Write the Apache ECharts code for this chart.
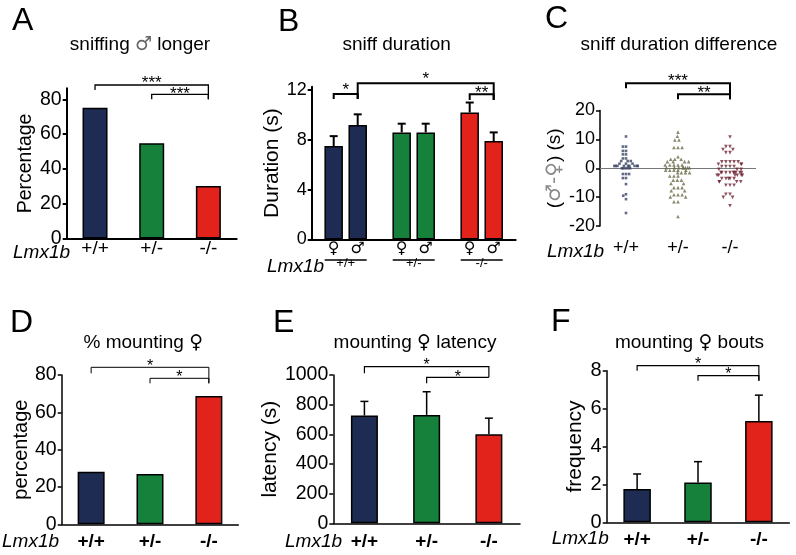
<!DOCTYPE html>
<html>
<head>
<meta charset="utf-8">
<script src="https://cdn.jsdelivr.net/npm/echarts@6.0.0/dist/echarts.min.js"></script>
<style>
html, body { margin: 0; padding: 0; background: #fff; }
#chart { width: 796px; height: 555px; }
</style>
</head>
<body>
<div id="chart"></div>
<script>
// ---- data ----
const genotypes = ['+/+', '+/-', '-/-'];

// A: % sniffing male longer
const sniffMalePct = [75.2, 54.7, 30.2];

// B: sniff duration (s), mean and sem, female / male stimulus
const sniffFemale = [7.5, 8.6, 10.2];
const sniffFemaleSem = [0.8, 0.7, 0.8];
const sniffMale = [9.2, 8.6, 7.9];
const sniffMaleSem = [0.85, 0.7, 0.7];

// C: individual differences (male - female), s
const diffWT = [11, 7.5, 7.5, 6, 6, 4.8, 4.8, 3.4, 3.4, 2.5, 2.5, 2.5, 1.6, 1.6, 1.6,
  0.8, 0.8, 0.8, 0.8, 0.8, 0.8, 0.8, 0.8, 0.8, 0, 0, 0, 0, 0, -2, -2, -2, -3.4, -3.4,
  -5.5, -9, -9.5, -10.7, -15.5];
const diffHet = [12.5, 11.1, 9.8, 9.8, 7.2, 7.2, 7.2, 4, 3.1, 3.1, 3.1, 2.3, 2.3, 2.3, 2.3,
  1.1, 1.1, 1.1, 1.1, 1.1, 0.2, 0.2, 0.2, 0.2, 0.2, 0.2, 0.2, 0.2, -0.7, -0.7, -0.7, -0.7, -0.7,
  -1.5, -1.5, -1.5, -1.5, -2.7, -2.7, -2.7, -4.1, -4.1, -4.1, -5.3, -5.3, -6.7, -6.7, -6.7,
  -7.8, -7.8, -9.2, -9.2, -9.2, -9.9, -9.9, -11.6, -11.6, -16.7];
const diffKO = [10.8, 7.5, 7.5, 6.5, 6.5, 5.4, 5.4, 2.2, 2.2, 2.2, 2.2, 2.2, 1.4, 1.4, 1.4,
  0.6, 0.6, 0.6, 0.6, -0.4, -0.4, -0.4, -1.5, -1.5, -1.5, -1.5, -1.5, -1.5, -1.5, -1.5, -1.5,
  -2.4, -2.4, -2.4, -2.4, -2.4, -2.4, -3.6, -3.6, -3.6, -3.6, -3.6, -4.7, -4.7, -4.7, -4.7,
  -5.9, -5.9, -5.9, -9, -9, -10.1, -10.1, -13];

// D, E, F: mounting female
const mountPct = [28.2, 26.9, 68.8];
const mountLatency = [727, 731, 600];
const mountLatencySem = [95, 156, 109];
const mountBouts = [1.76, 2.1, 5.34];
const mountBoutsSem = [0.79, 1.1, 1.37];

// tick labels
const ticksA = [0, 20, 40, 60, 80];
const ticksB = [0, 4, 8, 12];
const ticksC = [-20, -10, 0, 10, 20];
const ticksD = [0, 20, 40, 60, 80];
const ticksE = [0, 200, 400, 600, 800, 1000];
const ticksF = [0, 2, 4, 6, 8];

// significance comparisons [from, to, stars]
const sigA = [[0, 2, '***'], [1, 2, '***']];
const sigB = [[0, 2, '*'], [0, 0, '*'], [2, 2, '**']];
const sigC = [[0, 2, '***'], [1, 2, '**']];
const sigD = [[0, 2, '*'], [1, 2, '*']];
const sigE = [[0, 2, '*'], [1, 2, '*']];
const sigF = [[0, 2, '*'], [1, 2, '*']];

// ---- styling / layout ----
const FONT = "'Liberation Sans', Arial, Helvetica, sans-serif";
const SYM = "'DejaVu Sans', sans-serif";
const groupColors = ['#1e2c54', '#15813b', '#e2231b'];

// bracket geometry: px offsets from the top of the plot area
const layA = [{line: -3.3, l: 1.7, r: 11, star: -9.3}, {line: 6, l: 11, r: 11, star: 1.7}];
const layB = [{line: -3.4, l: 12.3, r: 13.3, star: -11.7, ls: 1, rs: 1},
              {line: 7.3, l: 12.3, r: 12.3, star: 0, ls: -1, rs: 1},
              {line: 7.6, l: 13.3, r: 13.3, star: 2.6, ls: -1, rs: 1}];
const layC = [{line: -27.2, l: -22.2, r: -11.2, star: -32.8}, {line: -16.2, l: -11.2, r: -11.2, star: -21.2}];
const layD = [{line: -7.7, l: -1.7, r: 8.3, star: -12.3}, {line: 3.3, l: 8.3, r: 8.3, star: -1.7}];
const layE = [{line: -8.3, l: -1.7, r: 2.3, star: -13.3}, {line: 2.3, l: 8.3, r: 2.3, star: -1.7}];
const layF = [{line: -5, l: 0, r: 10, star: -9.7}, {line: 5, l: 10, r: 10, star: 0}];

function txt(x, y, text, size, extra) {
  return {
    type: 'text', x: x, y: y, silent: true,
    style: Object.assign({
      text: text, fontSize: size, fontFamily: FONT, fill: '#000',
      textAlign: 'left', textVerticalAlign: 'middle', align: 'left', verticalAlign: 'middle'
    }, extra || {})
  };
}
function ctxt(x, y, text, size, extra) {
  return txt(x, y, text, size, Object.assign({textAlign: 'center', align: 'center'}, extra || {}));
}
// rich style for the sex symbols inside titles
const symRich = {
  s: {fontFamily: SYM, fontSize: 19, fill: '#000'},
  g: {fontFamily: SYM, fontSize: 19, fill: '#666'}
};

function catAxis(gi, fontSize, bold, margin, lineW, showLine, extra) {
  return Object.assign({
    type: 'category', gridIndex: gi, data: genotypes,
    axisLine: {show: showLine, onZero: false, lineStyle: {color: '#000', width: lineW}},
    axisTick: {show: false},
    axisLabel: {color: '#000', fontSize: fontSize, fontFamily: FONT, fontWeight: bold ? 'bold' : 'normal', margin: margin},
    splitLine: {show: false}
  }, extra || {});
}

function valAxis(gi, min, max, ticks, fontSize, lineW, name, nameGap, nameSize, nameRich) {
  return {
    type: 'value', gridIndex: gi, min: min, max: max,
    axisLine: {show: true, onZero: false, lineStyle: {color: '#000', width: lineW}},
    axisTick: {show: true, length: 4, customValues: ticks, lineStyle: {color: '#000', width: lineW}},
    axisLabel: {color: '#000', fontSize: fontSize, fontFamily: FONT, margin: 5, customValues: ticks,
                formatter: v => String(v)},
    splitLine: {show: false},
    name: name, nameLocation: 'middle', nameGap: nameGap,
    nameTextStyle: {color: '#000', fontSize: nameSize, fontFamily: FONT, rich: nameRich}
  };
}

function barSeries(gi, values, width, extra) {
  return Object.assign({
    type: 'bar', xAxisIndex: gi, yAxisIndex: gi, data: values, barWidth: width, silent: true,
    itemStyle: {color: p => groupColors[p.dataIndex], borderColor: '#000', borderWidth: 1.5},
    z: 2
  }, extra || {});
}

function errSeries(gi, means, sems, dx, lw) {
  return {
    type: 'custom', xAxisIndex: gi, yAxisIndex: gi, silent: true, z: 5, clip: false,
    data: means.map((m, i) => [i, m, m + sems[i]]),
    renderItem: function (params, api) {
      const p0 = api.coord([api.value(0), api.value(1)]);
      const p1 = api.coord([api.value(0), api.value(2)]);
      const x = p0[0] + dx;
      return {type: 'group', children: [
        {type: 'line', shape: {x1: x, y1: p0[1], x2: x, y2: p1[1]}, style: {stroke: '#000', lineWidth: lw, fill: 'none'}},
        {type: 'line', shape: {x1: x - 4, y1: p1[1], x2: x + 4, y2: p1[1]}, style: {stroke: '#000', lineWidth: lw, fill: 'none'}}
      ]};
    }
  };
}

function bracketSeries(gi, sig, lay, lw, fs, dx) {
  return {
    type: 'custom', xAxisIndex: gi, yAxisIndex: gi, silent: true, z: 10, clip: false,
    data: sig.map(s => [s[0], 0]),
    renderItem: function (params, api) {
      const k = params.dataIndex, s = sig[k], L = lay[k];
      const top = params.coordSys.y;
      const xa = api.coord([s[0], 0])[0] + (L.ls || 0) * (dx || 0);
      const xb = api.coord([s[1], 0])[0] + (L.rs || 0) * (dx || 0);
      const yl = top + L.line;
      return {type: 'group', children: [
        {type: 'polyline', shape: {points: [[xa, top + L.l], [xa, yl], [xb, yl], [xb, top + L.r]]},
         style: {stroke: '#000', lineWidth: lw, fill: 'none'}},
        {type: 'text', x: (xa + xb) / 2, y: top + L.star + 4,
         style: {text: s[2], fontSize: fs, fontFamily: FONT, fill: '#000',
                 textAlign: 'center', textVerticalAlign: 'middle', align: 'center', verticalAlign: 'middle'}}
      ]};
    }
  };
}

// underline under the sex symbols in B
function underlineSeries(gi, halfW, dy, lw) {
  return {
    type: 'custom', xAxisIndex: gi, yAxisIndex: gi, silent: true, z: 10, clip: false,
    data: genotypes.map((g, i) => [i, 0]),
    renderItem: function (params, api) {
      const x = api.coord([api.value(0), 0])[0];
      const y = params.coordSys.y + params.coordSys.height + dy;
      return {type: 'line', shape: {x1: x - halfW, y1: y, x2: x + halfW, y2: y},
              style: {stroke: '#000', lineWidth: lw, fill: 'none'}};
    }
  };
}

const chart = echarts.init(document.getElementById('chart'), null, {renderer: 'canvas'});

const option = {
  animation: false,
  backgroundColor: '#fff',
  textStyle: {fontFamily: FONT},
  grid: [
    {left: 66.7, top: 88.3, width: 170, height: 150.3, containLabel: false, outerBoundsMode: 'none'},
    {left: 311.7, top: 86.7, width: 204, height: 152.8, containLabel: false, outerBoundsMode: 'none'},
    {left: 600, top: 110.5, width: 156, height: 115.5, containLabel: false, outerBoundsMode: 'none'},
    {left: 61.7, top: 375, width: 176.6, height: 149.3, containLabel: false, outerBoundsMode: 'none'},
    {left: 333.3, top: 375, width: 186.7, height: 148.3, containLabel: false, outerBoundsMode: 'none'},
    {left: 606.7, top: 370.7, width: 182.6, height: 151.6, containLabel: false, outerBoundsMode: 'none'}
  ],
  xAxis: [
    catAxis(0, 19, false, 1, 2, true),
    catAxis(1, 13, false, 17.5, 2, true),
    catAxis(2, 18, false, 12.7, 1.5, false, {jitter: 26, jitterOverlap: false, jitterMargin: 0.5}),
    catAxis(3, 19, true, 8, 1.5, true),
    catAxis(4, 19, true, 9, 1.5, true),
    catAxis(5, 19, true, 7.5, 1.5, true)
  ],
  yAxis: [
    valAxis(0, 0, 86.3, ticksA, 19.5, 2, 'Percentage', 31, 19.5),
    valAxis(1, 0, 12.27, ticksB, 18, 2, 'Duration (s)', 19, 21),
    valAxis(2, -20, 20, ticksC, 18, 1.5, '({g|♂-♀}) (s)', 28, 19,
            {g: {color: '#8a8a8a', fontSize: 20, fontFamily: SYM}}),
    valAxis(3, 0, 80, ticksD, 19.5, 1.5, 'percentage', 30, 20),
    valAxis(4, 0, 1000, ticksE, 19.5, 1.5, 'latency (s)', 42, 21),
    valAxis(5, 0, 8, ticksF, 20, 1.5, 'frequency', 21, 21)
  ],
  series: [
    // A
    barSeries(0, sniffMalePct, 25),
    bracketSeries(0, sigA, layA, 1.3, 17),
    // B
    barSeries(1, sniffFemale, 18.5, {barGap: '30%',
      label: {show: true, position: 'bottom', distance: 1, formatter: '♀', fontSize: 16, fontFamily: SYM, color: '#000'}}),
    barSeries(1, sniffMale, 18.5, {barGap: '30%',
      label: {show: true, position: 'bottom', distance: 1, formatter: '♂', fontSize: 16, fontFamily: SYM, color: '#000'}}),
    errSeries(1, sniffFemale, sniffFemaleSem, -12, 2),
    errSeries(1, sniffMale, sniffMaleSem, 12, 2),
    underlineSeries(1, 21, 20.5, 1.5),
    bracketSeries(1, sigB, layB, 2, 17, 12),
    // C
    {type: 'scatter', xAxisIndex: 2, yAxisIndex: 2, silent: true, symbol: 'rect', symbolSize: 2.6,
     itemStyle: {color: '#3a4466'}, data: diffWT.map(v => [0, v]), z: 3,
     markLine: {silent: true, symbol: 'none', label: {show: false}, animation: false, z: 1,
                lineStyle: {color: '#777', width: 1.2, type: 'solid'}, data: [{yAxis: 0}]}},
    {type: 'scatter', xAxisIndex: 2, yAxisIndex: 2, silent: true, symbol: 'triangle', symbolSize: 3.6, z: 3,
     itemStyle: {color: '#6a6a47'}, data: diffHet.map(v => [1, v])},
    {type: 'scatter', xAxisIndex: 2, yAxisIndex: 2, silent: true, symbol: 'triangle', symbolRotate: 180, symbolSize: 3.6, z: 3,
     itemStyle: {color: '#6e2435'}, data: diffKO.map(v => [2, v])},
    bracketSeries(2, sigC, layC, 2, 17),
    // D
    barSeries(3, mountPct, 27),
    bracketSeries(3, sigD, layD, 1, 16),
    // E
    barSeries(4, mountLatency, 27),
    errSeries(4, mountLatency, mountLatencySem, 0, 1.5),
    bracketSeries(4, sigE, layE, 1.2, 16),
    // F
    barSeries(5, mountBouts, 27.5),
    errSeries(5, mountBouts, mountBoutsSem, 0, 1.5),
    bracketSeries(5, sigF, layF, 1.2, 16)
  ],
  graphic: [
    txt(12, 21.5, 'A', 32), txt(278, 21.7, 'B', 32), txt(545, 19, 'C', 32),
    txt(10, 323.3, 'D', 32), txt(273, 323.3, 'E', 32), txt(551, 321.7, 'F', 32),
    ctxt(140, 45, 'sniffing {g|♂} longer', 19, {rich: symRich}),
    ctxt(396.7, 45, 'sniff duration', 19),
    ctxt(679, 45, 'sniff duration difference', 19),
    ctxt(143.3, 343, '% mounting {s|♀}', 19, {rich: symRich}),
    ctxt(415, 343, 'mounting {s|♀} latency', 19, {rich: symRich}),
    ctxt(689.5, 343, 'mounting {s|♀} bouts', 19, {rich: symRich}),
    txt(13, 252.5, 'Lmx1b', 19, {fontStyle: 'italic'}),
    txt(267, 267, 'Lmx1b', 19, {fontStyle: 'italic'}),
    txt(547, 252, 'Lmx1b', 19, {fontStyle: 'italic'}),
    txt(2, 541.7, 'Lmx1b', 19, {fontStyle: 'italic'}),
    txt(285, 541.7, 'Lmx1b', 19, {fontStyle: 'italic'}),
    txt(551.7, 539, 'Lmx1b', 19, {fontStyle: 'italic'})
  ]
};

chart.setOption(option);
</script>
</body>
</html>
